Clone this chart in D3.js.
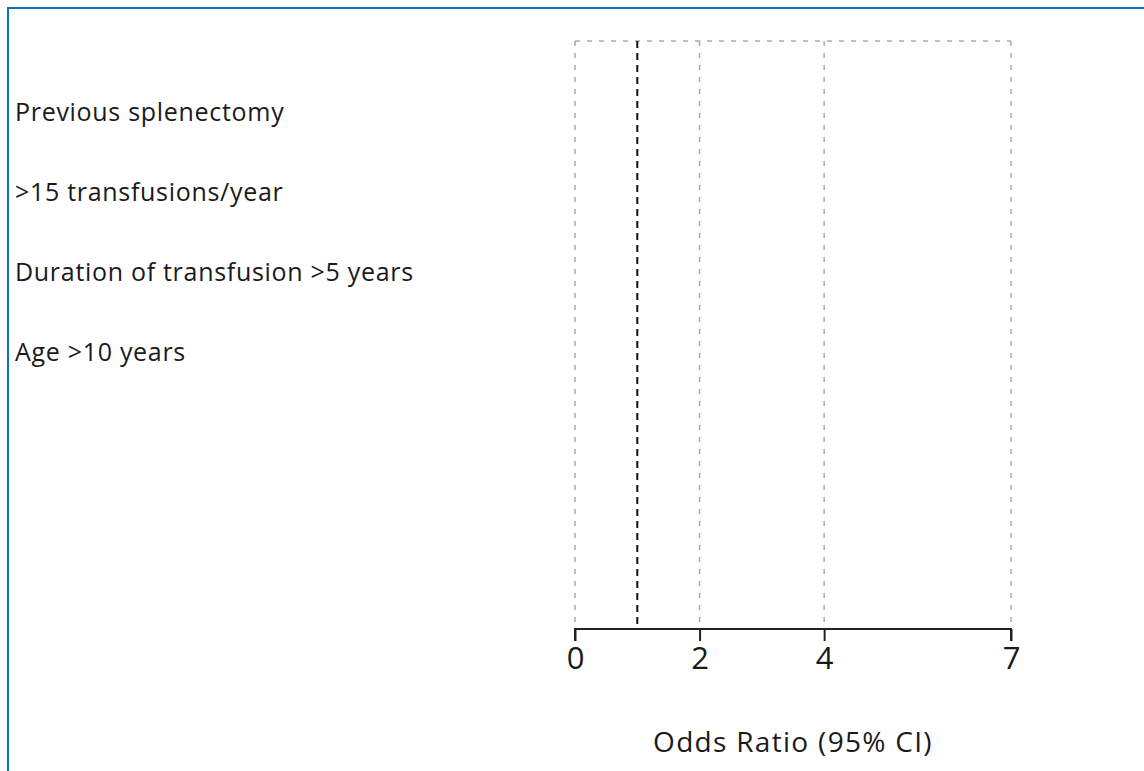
<!DOCTYPE html>
<html><head><meta charset="utf-8">
<script src="https://cdn.jsdelivr.net/npm/d3@7"></script>
<style>
html,body{margin:0;padding:0;background:#fff;}
svg{display:block;}
text{font-family:"Open Sans","Noto Sans",sans-serif;fill:#1a1a1a;}
</style></head>
<body>
<script>
// ---- data ----
const categories = ["Previous splenectomy", ">15 transfusions/year", "Duration of transfusion >5 years", "Age >10 years"];
const tickValues = [0, 2, 4, 7];
const referenceValue = [1];
const xDomain = [0, 7];
const axisTitle = "Odds Ratio (95% CI)";

const W = 1144, H = 771;
const svg = d3.select("body").append("svg").attr("width", W).attr("height", H);

// window frame (blue border top & left)
svg.append("rect").attr("x", 7).attr("y", 7).attr("width", W - 7).attr("height", 2).attr("fill", "#0a72c4");
svg.append("rect").attr("x", 7).attr("y", 7).attr("width", 2).attr("height", H - 7).attr("fill", "#0a72c4");

const plotTop = 41, plotBottom = 629;
const x = d3.scaleLinear().domain(xDomain).range([575, 1011]);
const y = d3.scalePoint().domain(categories).range([112, 352]);

// row labels
svg.append("g").selectAll("text").data(categories).join("text")
  .attr("x", 15).attr("y", d => y(d)).attr("dy", "0.35em")
  .attr("font-size", 25).attr("letter-spacing", 0.7).text(d => d);

// gridlines
svg.append("g").selectAll("line").data(tickValues).join("line")
  .attr("x1", d => x(d)).attr("x2", d => x(d))
  .attr("y1", plotTop).attr("y2", plotBottom)
  .attr("stroke", "#aaa").attr("stroke-width", 1.5).attr("stroke-dasharray", "5,7");
svg.append("line")
  .attr("x1", x(xDomain[0])).attr("x2", x(xDomain[1]))
  .attr("y1", plotTop).attr("y2", plotTop)
  .attr("stroke", "#aaa").attr("stroke-width", 1.5).attr("stroke-dasharray", "5,7");

// reference line
svg.append("g").selectAll("line").data(referenceValue).join("line")
  .attr("x1", d => x(d)).attr("x2", d => x(d))
  .attr("y1", plotTop).attr("y2", plotBottom)
  .attr("stroke", "#111").attr("stroke-width", 2).attr("stroke-dasharray", "7,5");

// x axis
const axis = d3.axisBottom(x).tickValues(tickValues).tickSize(12).tickPadding(6).tickFormat(d3.format("d"));
const gx = svg.append("g").attr("transform", `translate(0,${plotBottom})`).call(axis);
gx.select(".domain").attr("stroke", "#222").attr("stroke-width", 2).attr("d", `M${x(xDomain[0])},12V0H${x(xDomain[1])}V12`);
gx.selectAll(".tick line").attr("stroke", "#222").attr("stroke-width", 2);
gx.selectAll(".tick text").attr("font-size", 31).attr("fill", "#1a1a1a")
  .style("font-family", '"Open Sans","Noto Sans",sans-serif');

// axis title
svg.append("text").attr("x", 793).attr("y", 752).attr("text-anchor", "middle")
  .attr("font-size", 28).attr("letter-spacing", 1.3).attr("fill", "#2a2a2a").text(axisTitle);
</script>
</body></html>
